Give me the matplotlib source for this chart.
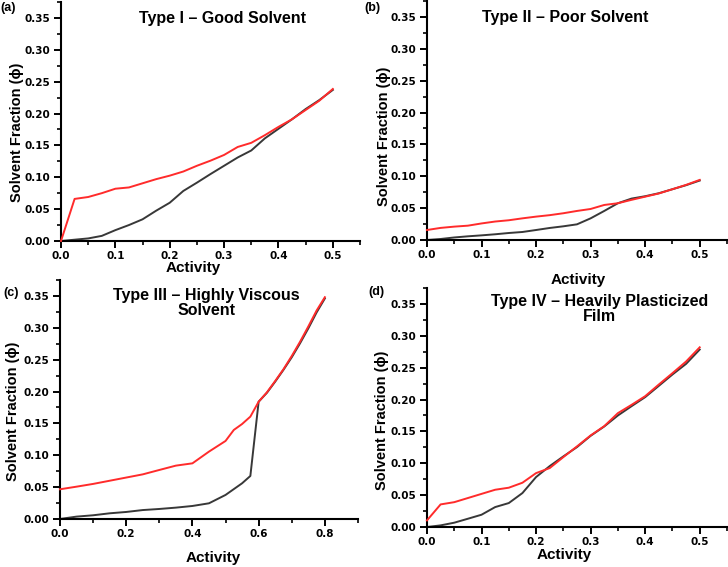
import matplotlib
matplotlib.use("Agg")
import numpy as np
import matplotlib.pyplot as plt
from matplotlib.ticker import MultipleLocator, FormatStrFormatter

# (a) Type I - good solvent
act_a = [0, 0.025, 0.05, 0.075, 0.1, 0.125, 0.15, 0.175, 0.2, 0.225, 0.25,
         0.275, 0.3, 0.325, 0.35, 0.375, 0.4, 0.425, 0.45, 0.475, 0.5]
red_a = [0, 0.066, 0.069, 0.075, 0.082, 0.084, 0.0905, 0.097, 0.1025, 0.109, 0.118,
         0.126, 0.135, 0.1475, 0.154, 0.166, 0.179, 0.191, 0.2055, 0.22, 0.2385]
blk_a = [0, 0.002, 0.004, 0.008, 0.017, 0.025, 0.034, 0.0475, 0.06, 0.0785, 0.0915,
         0.105, 0.118, 0.131, 0.142, 0.161, 0.176, 0.191, 0.207, 0.221, 0.237]

# (b) Type II - poor solvent
act_b = act_a
red_b = [0.0157, 0.019, 0.021, 0.0225, 0.026, 0.029, 0.031, 0.034, 0.0367, 0.039, 0.042,
         0.0456, 0.0487, 0.055, 0.0577, 0.063, 0.068, 0.073, 0.0797, 0.0865, 0.0943]
blk_b = [0, 0.0016, 0.004, 0.0058, 0.0073, 0.009, 0.011, 0.0126, 0.0157, 0.0189, 0.0215,
         0.0246, 0.034, 0.0456, 0.0577, 0.065, 0.0687, 0.0734, 0.0797, 0.086, 0.0933]

# (c) Type III - highly viscous solvent
act_c_red = [0, 0.05, 0.1, 0.15, 0.2, 0.25, 0.3, 0.35, 0.4, 0.45, 0.5, 0.525, 0.55,
             0.575, 0.6, 0.625, 0.65, 0.675, 0.7, 0.725, 0.75, 0.775, 0.8]
red_c = [0.0466, 0.0507, 0.055, 0.060, 0.065, 0.070, 0.0769, 0.0837, 0.0873, 0.1057,
         0.1224, 0.1397, 0.149, 0.1606, 0.184, 0.1987, 0.2165, 0.235, 0.2557, 0.278,
         0.302, 0.327, 0.348]
act_c_blk = [0, 0.05, 0.1, 0.15, 0.2, 0.25, 0.3, 0.35, 0.4, 0.45, 0.5, 0.55, 0.575,
             0.6, 0.625, 0.65, 0.675, 0.7, 0.725, 0.75, 0.775, 0.8]
blk_c = [0, 0.0037, 0.0058, 0.0089, 0.011, 0.014, 0.0157, 0.0178, 0.0204, 0.0246,
         0.0377, 0.056, 0.0675, 0.184, 0.198, 0.2155, 0.234, 0.2537, 0.2756, 0.299,
         0.324, 0.346]

# (d) Type IV - heavily plasticized film
act_d = act_a
red_d = [0.0104, 0.0355, 0.039, 0.0455, 0.052, 0.0585, 0.0617, 0.0695, 0.0846, 0.0925,
         0.1097, 0.1265, 0.1437, 0.1583, 0.1787, 0.1917, 0.2053, 0.2236, 0.2414, 0.2597, 0.282]
blk_d = [0, 0.0026, 0.0068, 0.013, 0.0193, 0.0313, 0.0376, 0.0533, 0.0784, 0.0956,
         0.1108, 0.1254, 0.1431, 0.1578, 0.175, 0.1896, 0.2038, 0.2215, 0.2393, 0.256, 0.2785]

titles = ["Type I \u2013 Good Solvent", "Type II \u2013 Poor Solvent",
          "Type III \u2013 Highly Viscous\nSolvent", "Type IV \u2013 Heavily Plasticized\nFilm"]
panel_tags = ["(a)", "(b)", "(c)", "(d)"]

RED = "#ff2b2b"
BLK = "#383838"
LAB = "Liberation Sans"

fig = plt.figure(figsize=(7.28, 5.67), dpi=100)

axes_pos = [
    [0.0838, 0.575, 0.4107, 0.4215],
    [0.5865, 0.5767, 0.4121, 0.4215],
    [0.0824, 0.0847, 0.4093, 0.4215],
    [0.5865, 0.0705, 0.4121, 0.4215],
]
series = [
    (act_a, red_a, act_a, blk_a, 0.55, 0.1),
    (act_b, red_b, act_b, blk_b, 0.55, 0.1),
    (act_c_red, red_c, act_c_blk, blk_c, 0.9, 0.2),
    (act_d, red_d, act_d, blk_d, 0.55, 0.1),
]

for pos, (xr, yr, xb, yb, xmax, xstep) in zip(axes_pos, series):
    ax = fig.add_axes(pos)
    ax.plot(xb, yb, color=BLK, lw=1.4, zorder=2, clip_on=False)
    ax.plot(xr, yr, color=RED, lw=1.4, zorder=3, clip_on=False)
    ax.spines['top'].set_visible(False)
    ax.spines['right'].set_visible(False)
    ax.spines['left'].set_linewidth(1.5)
    ax.spines['bottom'].set_linewidth(1.5)
    ax.set_xticks(np.arange(0, xmax - 0.01, xstep))
    ax.xaxis.set_minor_locator(MultipleLocator(xstep / 2))
    ax.yaxis.set_major_locator(MultipleLocator(0.05))
    ax.yaxis.set_minor_locator(MultipleLocator(0.025))
    ax.set_xlim(0, xmax)
    ax.set_ylim(0, 0.375)
    ax.xaxis.set_major_formatter(FormatStrFormatter('%.1f'))
    ax.yaxis.set_major_formatter(FormatStrFormatter('%.2f'))
    ax.tick_params(which='major', length=5, width=1.4, labelsize=7.5, pad=2.5)
    ax.tick_params(which='minor', length=3, width=1.2)
    for lab in ax.get_xticklabels() + ax.get_yticklabels():
        lab.set_fontweight('bold')
        lab.set_fontfamily('DejaVu Sans')

# titles
title_xy = [(0.306, 0.9665), (0.777, 0.970), (0.284, 0.4656), (0.823, 0.455)]
for (x, y), t in zip(title_xy, titles):
    fig.text(x, y, t, ha='center', va='center', fontsize=11.5, fontweight='bold',
             family=LAB, linespacing=1.05)

# x labels
xlab_xy = [(0.265, 0.527), (0.794, 0.506), (0.293, 0.016), (0.775, 0.021)]
for x, y in xlab_xy:
    fig.text(x, y, "Activity", ha='center', va='center', fontsize=11, fontweight='bold', family=LAB)

# y labels
ylab_xy = [(0.023, 0.767), (0.527, 0.760), (0.018, 0.275), (0.525, 0.259)]
for x, y in ylab_xy:
    fig.text(x, y, "Solvent Fraction (\u03d5)", ha='center', va='center', rotation=90,
             fontsize=10.5, fontweight='bold', family=[LAB, 'DejaVu Sans'])

# panel tags
tag_xy = [(0.0, 0.986), (0.5, 0.986), (0.005, 0.483), (0.506, 0.485)]
for (x, y), t in zip(tag_xy, panel_tags):
    fig.text(x, y, t, ha='left', va='center', fontsize=9, fontweight='bold', family=LAB)

fig.savefig("out.png", dpi=100)
